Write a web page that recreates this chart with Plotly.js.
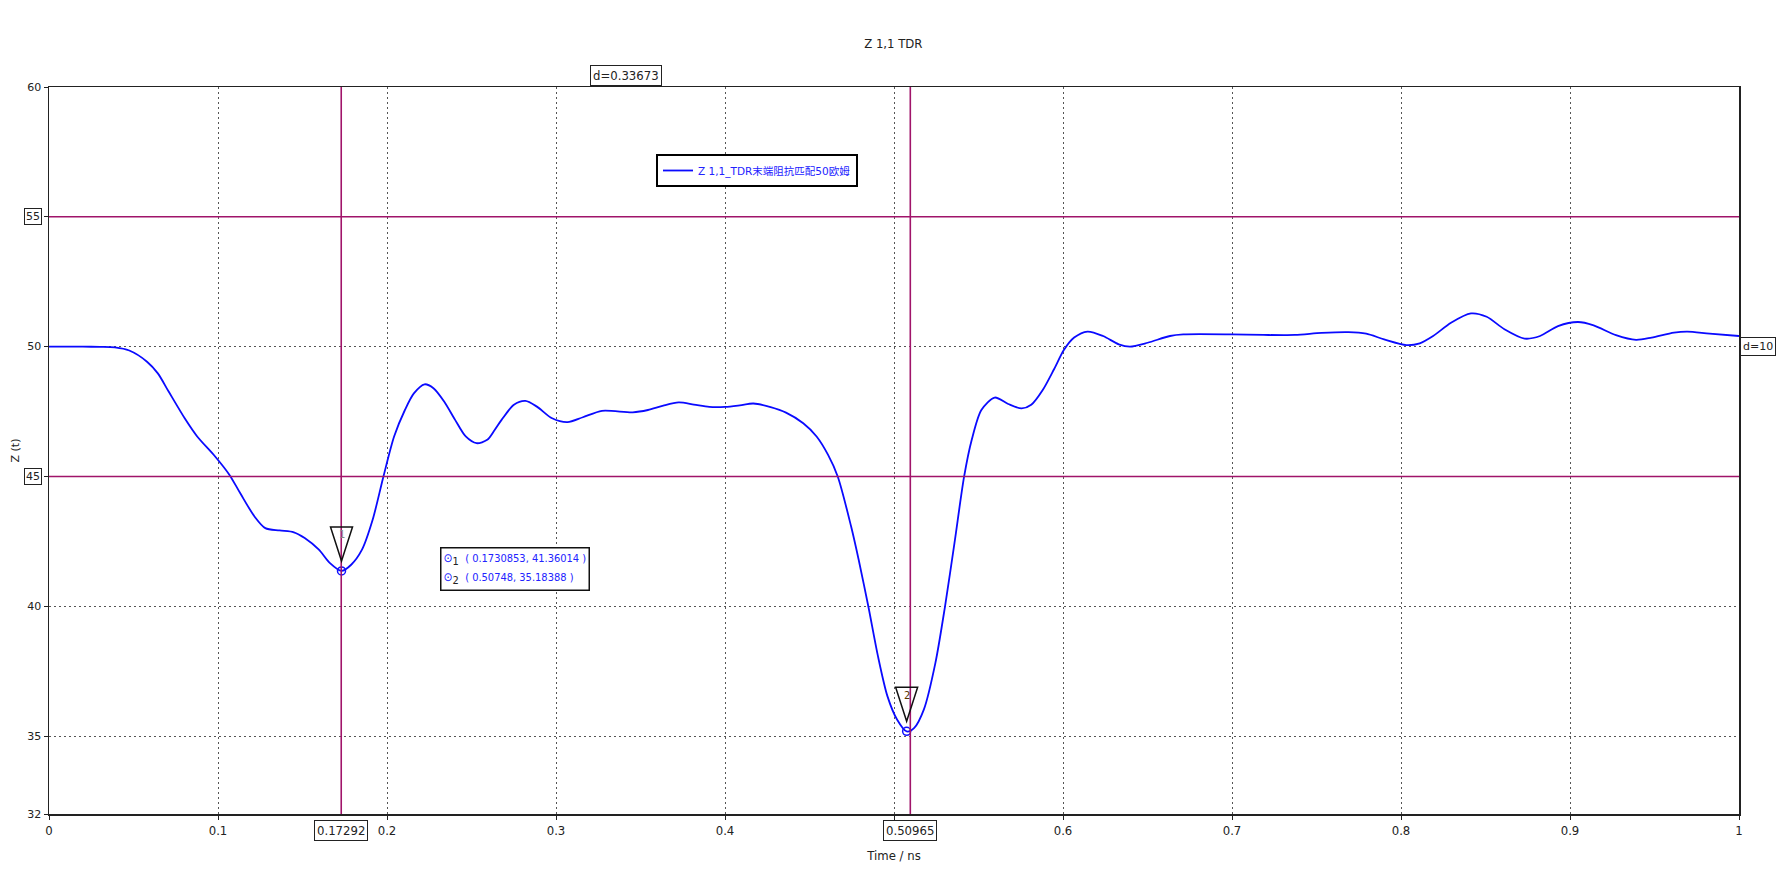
<!DOCTYPE html>
<html>
<head>
<meta charset="utf-8">
<script src="https://cdn.plot.ly/plotly-3.0.1.min.js"></script>
<style>
html,body{margin:0;padding:0;background:#fff;}
#chart{width:1776px;height:877px;}
</style>
</head>
<body>
<div id="chart"></div>
<script>
// ---- data ----
const timeNs = [0, 0.01, 0.02, 0.03, 0.039, 0.0475, 0.058, 0.0644, 0.0708, 0.0803,
  0.0877, 0.0983, 0.1068, 0.1131, 0.1216, 0.128, 0.1364, 0.1449, 0.1513, 0.1597,
  0.1661, 0.1731, 0.1788, 0.1852, 0.1915, 0.1979, 0.2042, 0.2106, 0.2159, 0.2222,
  0.2275, 0.2339, 0.2403, 0.2466, 0.253, 0.2593, 0.2637, 0.2678, 0.2751, 0.2819,
  0.2887, 0.2977, 0.3068, 0.3159, 0.3272, 0.3454, 0.3544, 0.3635, 0.3726, 0.3816,
  0.3907, 0.4, 0.4088, 0.4168, 0.427, 0.4361, 0.4463, 0.4542, 0.461, 0.4667,
  0.4746, 0.4791, 0.4848, 0.4905, 0.4961, 0.5018, 0.5075, 0.512, 0.5177, 0.5245,
  0.5302, 0.5358, 0.5415, 0.546, 0.5517, 0.5596, 0.5676, 0.5755, 0.5812, 0.588,
  0.5947, 0.6005, 0.6066, 0.6145, 0.6237, 0.633, 0.6396, 0.6501, 0.6633, 0.6712,
  0.7, 0.7187, 0.7372, 0.753, 0.7689, 0.7794, 0.79, 0.8032, 0.8111, 0.819,
  0.8296, 0.8414, 0.8507, 0.8612, 0.8731, 0.8823, 0.8929, 0.9047, 0.914, 0.9272,
  0.9391, 0.9483, 0.9615, 0.9694, 0.9826, 1.0];
const impedance = [50, 50, 50, 49.99, 49.97, 49.85, 49.42, 48.97, 48.27, 47.24,
  46.54, 45.77, 45.06, 44.36, 43.46, 43.01, 42.92, 42.85, 42.63, 42.18,
  41.67, 41.36, 41.6, 42.18, 43.33, 45.0, 46.54, 47.56, 48.2, 48.55,
  48.4, 47.88, 47.18, 46.54, 46.28, 46.41, 46.79, 47.18, 47.76, 47.91,
  47.69, 47.24, 47.09, 47.28, 47.53, 47.47, 47.56, 47.73, 47.85, 47.77,
  47.68, 47.68, 47.74, 47.81, 47.67, 47.46, 47.05, 46.54, 45.83, 45.0,
  43.08, 41.79, 40.0, 38.08, 36.54, 35.64, 35.18, 35.32, 36.03, 37.82,
  40.0, 42.44, 45.0, 46.41, 47.56, 48.04, 47.79, 47.62, 47.76, 48.33,
  49.13, 49.87, 50.35, 50.58, 50.41, 50.09, 50.0, 50.15, 50.41, 50.47,
  50.47, 50.45, 50.45, 50.53, 50.56, 50.5, 50.28, 50.06, 50.13, 50.41,
  50.92, 51.28, 51.15, 50.67, 50.31, 50.41, 50.79, 50.95, 50.82, 50.44,
  50.26, 50.35, 50.54, 50.58, 50.5, 50.41];

const seriesName = "Z 1,1_TDR末端阻抗匹配50欧姆";
const chartTitle = "Z 1,1 TDR";
const xTitle = "Time / ns";
const yTitle = "Z (t)";

const xTickVals = [0, 0.1, 0.2, 0.3, 0.4, 0.6, 0.7, 0.8, 0.9, 1];
const xTickText = ["0", "0.1", "0.2", "0.3", "0.4", "0.6", "0.7", "0.8", "0.9", "1"];
const xHiddenTicks = [0.5];
const yTickVals = [32, 35, 40, 50, 60];
const yTickText = ["32", "35", "40", "50", "60"];
const yHiddenTicks = [45, 55];

// marker readouts
const markerIds = ["1", "2"];
const markerX = [0.1730853, 0.50748];
const markerY = [41.36014, 35.18388];
const markerXText = ["0.1730853", "0.50748"];
const markerYText = ["41.36014", "35.18388"];

// cursors
const vCursors = [0.17292, 0.50965];
const vCursorText = ["0.17292", "0.50965"];
const hCursors = [45, 55];
const hCursorText = ["45", "55"];

// ---- styling ----
const cursorColor = "#a0146a";
const narrow = "'Liberation Sans Narrow', 'DejaVu Sans Condensed', 'Liberation Sans', Arial, sans-serif";
const wide = "'DejaVu Sans', Verdana, 'Noto Sans CJK SC', sans-serif";

const traces = [
  {
    x: timeNs, y: impedance, type: "scatter", mode: "lines",
    name: seriesName,
    line: {color: "#0a0aff", width: 1.8, shape: "spline", smoothing: 0.8},
    hoverinfo: "x+y"
  },
  {
    x: markerX, y: markerY, type: "scatter", mode: "markers",
    showlegend: false,
    marker: {symbol: "circle-open", size: 8, color: "#1010ff", line: {width: 1.5, color: "#1010ff"}},
    hoverinfo: "x+y"
  }
];

const shapes = [];
vCursors.forEach(v => shapes.push({type: "line", xref: "x", yref: "paper", x0: v, x1: v, y0: 0, y1: 1,
  line: {color: cursorColor, width: 1.6}}));
hCursors.forEach(v => shapes.push({type: "line", xref: "paper", yref: "y", x0: 0, x1: 1, y0: v, y1: v,
  line: {color: cursorColor, width: 1.6}}));
// marker triangles (pixel-sized, anchored at the marker point)
markerX.forEach((mx, i) => shapes.push({type: "path", xref: "x", yref: "y",
  xsizemode: "pixel", ysizemode: "pixel", xanchor: mx, yanchor: markerY[i],
  path: "M -11 44 L 11 44 L 0 10 Z",
  line: {color: "#111", width: 1.5}, fillcolor: "rgba(0,0,0,0)"}));

const annotations = [];
vCursors.forEach((v, i) => annotations.push({xref: "x", yref: "paper", x: v, y: 0, yanchor: "top", yshift: -6,
  text: vCursorText[i], showarrow: false, font: {family: narrow, size: 13, color: "#222"},
  bordercolor: "#222", borderwidth: 1, borderpad: 2, bgcolor: "#fff"}));
hCursors.forEach((v, i) => annotations.push({xref: "paper", yref: "y", x: 0, y: v, xanchor: "right", xshift: -7,
  text: hCursorText[i], showarrow: false, font: {family: wide, size: 11, color: "#222"},
  bordercolor: "#222", borderwidth: 1, borderpad: 1, bgcolor: "#fff"}));
annotations.push({xref: "x", yref: "paper", x: (vCursors[0] + vCursors[1]) / 2, y: 1, yanchor: "bottom", yshift: 1,
  text: "d=" + (vCursors[1] - vCursors[0]).toFixed(5), showarrow: false,
  font: {family: narrow, size: 13, color: "#222"}, bordercolor: "#222", borderwidth: 1, borderpad: 2, bgcolor: "#fff"});
annotations.push({xref: "paper", yref: "y", x: 1, y: (hCursors[0] + hCursors[1]) / 2, xanchor: "left", xshift: 1,
  text: "d=" + (hCursors[1] - hCursors[0]), showarrow: false, align: "left",
  font: {family: wide, size: 11, color: "#222"}, bordercolor: "#222", borderwidth: 1, borderpad: 2, bgcolor: "#fff"});
markerIds.forEach((id, i) => annotations.push({xref: "x", yref: "y", x: markerX[i], y: markerY[i], yshift: 36,
  text: id, showarrow: false, font: {family: wide, size: 10, color: i === 0 ? "#888" : "#553300"}}));
// readout box
const readout = markerIds.map((id, i) =>
  "<span style='color:#1010ff;font-size:12px'>⊙</span><sub><span style='color:#222;font-size:11px'>" + id + "</span></sub>" +
  "<span style='font-size:11px'>  ( " + markerXText[i] + ", " + markerYText[i] + " )</span>").join("<br>");
annotations.push({xref: "paper", yref: "paper", x: (440 - 49) / 1690, y: (814 - 547) / 727, xanchor: "left", yanchor: "top",
  text: readout, align: "left", showarrow: false,
  font: {family: narrow, size: 15, color: "#2222ff"}, bordercolor: "#111", borderwidth: 1.5, borderpad: 2, bgcolor: "#fff"});

const layout = {
  width: 1776, height: 877,
  margin: {l: 49, r: 37, t: 87, b: 63},
  paper_bgcolor: "#fff", plot_bgcolor: "#fff",
  font: {family: narrow, size: 12, color: "#222"},
  title: {text: chartTitle, x: 0.503, xanchor: "center", y: 0.951, yanchor: "middle",
    font: {family: narrow, size: 13, color: "#222"}},
  showlegend: true,
  legend: {x: (656 - 49) / 1690, y: (814 - 154) / 727, xanchor: "left", yanchor: "top",
    bordercolor: "#000", borderwidth: 2, bgcolor: "#fff",
    font: {family: wide, size: 10.5, color: "#2222ff"}, itemwidth: 30, tracegroupgap: 0},
  xaxis: {
    range: [0, 1], tickvals: xTickVals, ticktext: xTickText,
    showgrid: true, gridcolor: "#555", griddash: "2px,3px", gridwidth: 1,
    minor: {tickmode: "array", tickvals: xHiddenTicks, showgrid: true, gridcolor: "#555", griddash: "2px,3px",
      gridwidth: 1, ticks: "outside", ticklen: 4, tickcolor: "#222"},
    showline: true, linecolor: "#222", linewidth: 1.5, mirror: true,
    ticks: "outside", ticklen: 4, tickcolor: "#222", zeroline: false,
    tickfont: {family: narrow, size: 13, color: "#222"},
    title: {text: xTitle, standoff: 14, font: {family: narrow, size: 13, color: "#222"}}
  },
  yaxis: {
    range: [32, 60], tickvals: yTickVals, ticktext: yTickText,
    showgrid: true, gridcolor: "#555", griddash: "2px,3px", gridwidth: 1,
    minor: {tickmode: "array", tickvals: yHiddenTicks, showgrid: true, gridcolor: "#555", griddash: "2px,3px",
      gridwidth: 1, ticks: "outside", ticklen: 4, tickcolor: "#222"},
    showline: true, linecolor: "#222", linewidth: 1.5, mirror: true,
    ticks: "outside", ticklen: 4, tickcolor: "#222", zeroline: false,
    tickfont: {family: wide, size: 11, color: "#222"},
    title: {text: yTitle, standoff: 5, font: {family: wide, size: 11, color: "#222"}}
  },
  shapes: shapes,
  annotations: annotations
};

Plotly.newPlot("chart", traces, layout, {displayModeBar: false, staticPlot: true});
</script>
</body>
</html>
